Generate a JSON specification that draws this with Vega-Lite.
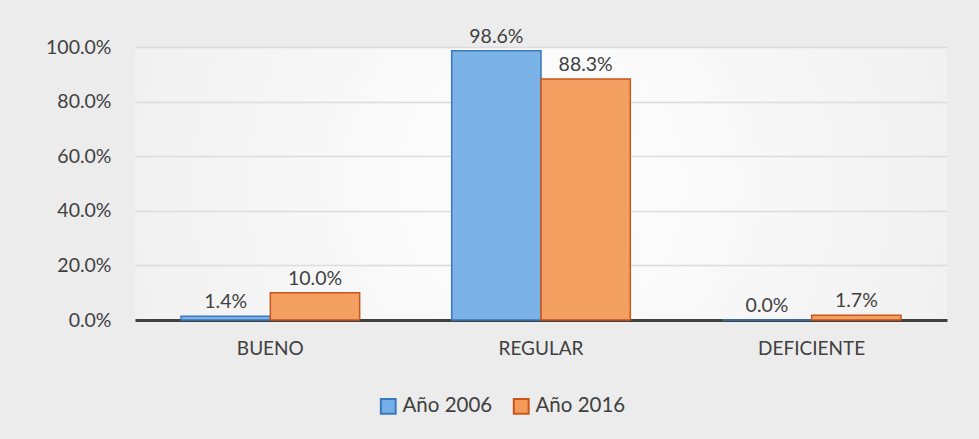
{
  "$schema": "https://vega.github.io/schema/vega-lite/v6.json",
  "width": 812,
  "height": 273,
  "autosize": {"type": "none"},
  "padding": {"left": 135, "top": 47, "right": 32, "bottom": 119},
  "background": "#ececec",
  "data": {
    "values": [
      {"categoria": "BUENO", "serie": "Año 2006", "valor": 0.014},
      {"categoria": "BUENO", "serie": "Año 2016", "valor": 0.100},
      {"categoria": "REGULAR", "serie": "Año 2006", "valor": 0.986},
      {"categoria": "REGULAR", "serie": "Año 2016", "valor": 0.883},
      {"categoria": "DEFICIENTE", "serie": "Año 2006", "valor": 0.000},
      {"categoria": "DEFICIENTE", "serie": "Año 2016", "valor": 0.017}
    ]
  },
  "encoding": {
    "x": {
      "field": "categoria",
      "type": "nominal",
      "sort": ["BUENO", "REGULAR", "DEFICIENTE"],
      "scale": {"paddingInner": 0.34, "paddingOuter": 0.17},
      "axis": {
        "title": null,
        "labelAngle": 0,
        "labelFont": "Lato",
        "labelFontSize": 19,
        "labelColor": "#404040",
        "labelPadding": 19,
        "ticks": false,
        "domainColor": "#404040",
        "domainWidth": 3
      }
    },
    "xOffset": {"field": "serie", "type": "nominal", "sort": ["Año 2006", "Año 2016"]},
    "y": {
      "field": "valor",
      "type": "quantitative",
      "scale": {"domain": [0, 1]},
      "axis": {
        "title": null,
        "format": ".1%",
        "values": [0, 0.2, 0.4, 0.6, 0.8, 1.0],
        "labelFont": "Lato",
        "labelFontSize": 19.5,
        "labelColor": "#404040",
        "labelPadding": 24,
        "ticks": false,
        "domain": false,
        "gridColor": "#dcdcdc",
        "gridWidth": 1.5
      }
    }
  },
  "layer": [
    {
      "mark": {"type": "bar", "strokeWidth": 1.5, "fillOpacity": 0.95},
      "encoding": {
        "color": {
          "field": "serie",
          "type": "nominal",
          "sort": ["Año 2006", "Año 2016"],
          "scale": {"domain": ["Año 2006", "Año 2016"], "range": ["#74aee6", "#f39a5a"]},
          "legend": {
            "title": null,
            "orient": "none",
            "direction": "horizontal",
            "legendX": 243,
            "legendY": 349,
            "symbolType": "square",
            "symbolSize": 220,
            "symbolStrokeWidth": 2,
            "labelFont": "Lato",
            "labelFontSize": 20.5,
            "labelColor": "#404040",
            "columnPadding": 16,
            "labelOffset": 4
          }
        },
        "stroke": {
          "field": "serie",
          "type": "nominal",
          "scale": {"domain": ["Año 2006", "Año 2016"], "range": ["#3a78be", "#c9561a"]},
          "legend": null
        }
      }
    },
    {
      "mark": {"type": "text", "dy": -14, "font": "Lato", "fontSize": 19.5, "color": "#404040"},
      "encoding": {
        "text": {"field": "valor", "type": "quantitative", "format": ".1%"}
      }
    }
  ],
  "config": {
    "view": {
      "stroke": null,
      "fill": {
        "gradient": "radial",
        "x1": 0.5, "y1": 0.5, "r1": 0,
        "x2": 0.5, "y2": 0.5, "r2": 0.7,
        "stops": [
          {"offset": 0, "color": "#ffffff"},
          {"offset": 1, "color": "#ececec"}
        ]
      }
    }
  }
}
